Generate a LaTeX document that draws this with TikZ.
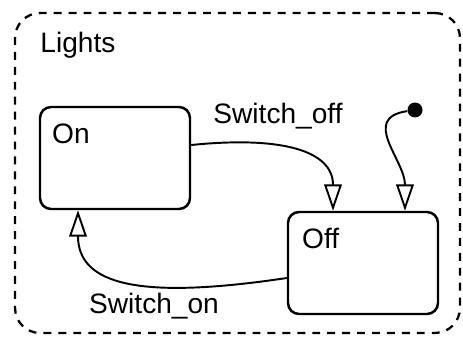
\documentclass[tikz,border=0pt]{standalone}
\usepackage{fontspec}
\setmainfont{Liberation Sans}
\usetikzlibrary{calc,positioning,arrows.meta}

\tikzset{
  statebox/.style={draw, line width=1.4pt, rounded corners=0.22cm, minimum width=3cm, minimum height=2.04cm},
  trans/.style={line width=1.1pt, -{Triangle[open, length=15pt, width=10pt, line width=1.1pt]}},
  lbl/.style={font=\fontsize{16}{19}\selectfont, inner sep=0pt}
}

\begin{document}
\begin{tikzpicture}[x=0.02cm, y=-0.02cm]
  \useasboundingbox (0,0) rectangle (463,341);
  % superstate
  \node[draw, line width=1.3pt, dash pattern=on 4.5pt off 4pt, rounded corners=0.5cm, minimum width=8.9cm, minimum height=6.4cm] (lights) at (237.5,173) {};
  \node[lbl] (lightsname) at (78,45) {Lights};
  % states
  \node[statebox] (on) at (115,158) {};
  \node[lbl, anchor=north west] (onname) at ([xshift=0.26cm, yshift=-0.36cm]on.north west) {On};
  \node[statebox] (off) at (363,263) {};
  \node[lbl, anchor=north west] (offname) at ([xshift=0.3cm, yshift=-0.34cm]off.north west) {Off};
  \node[circle, fill=black, minimum size=0.3cm, inner sep=0pt] (init) at (415,110) {};
  % transitions
  \draw[trans] ([yshift=0.26cm]on.east) .. controls (280,136) and (333,150) .. ([xshift=-0.6cm]off.north);
  \draw[trans] (init) .. controls (360,118) and (405,160) .. ([xshift=0.84cm]off.north);
  \draw[trans] ([yshift=-0.3cm]off.west) .. controls (140,300) and (78,285) .. ([xshift=-0.74cm]on.south);
  \node[lbl] (offlabel) at (278,116) {Switch\_off};
  \node[lbl] (onlabel) at (154,306) {Switch\_on};
\end{tikzpicture}
\end{document}
